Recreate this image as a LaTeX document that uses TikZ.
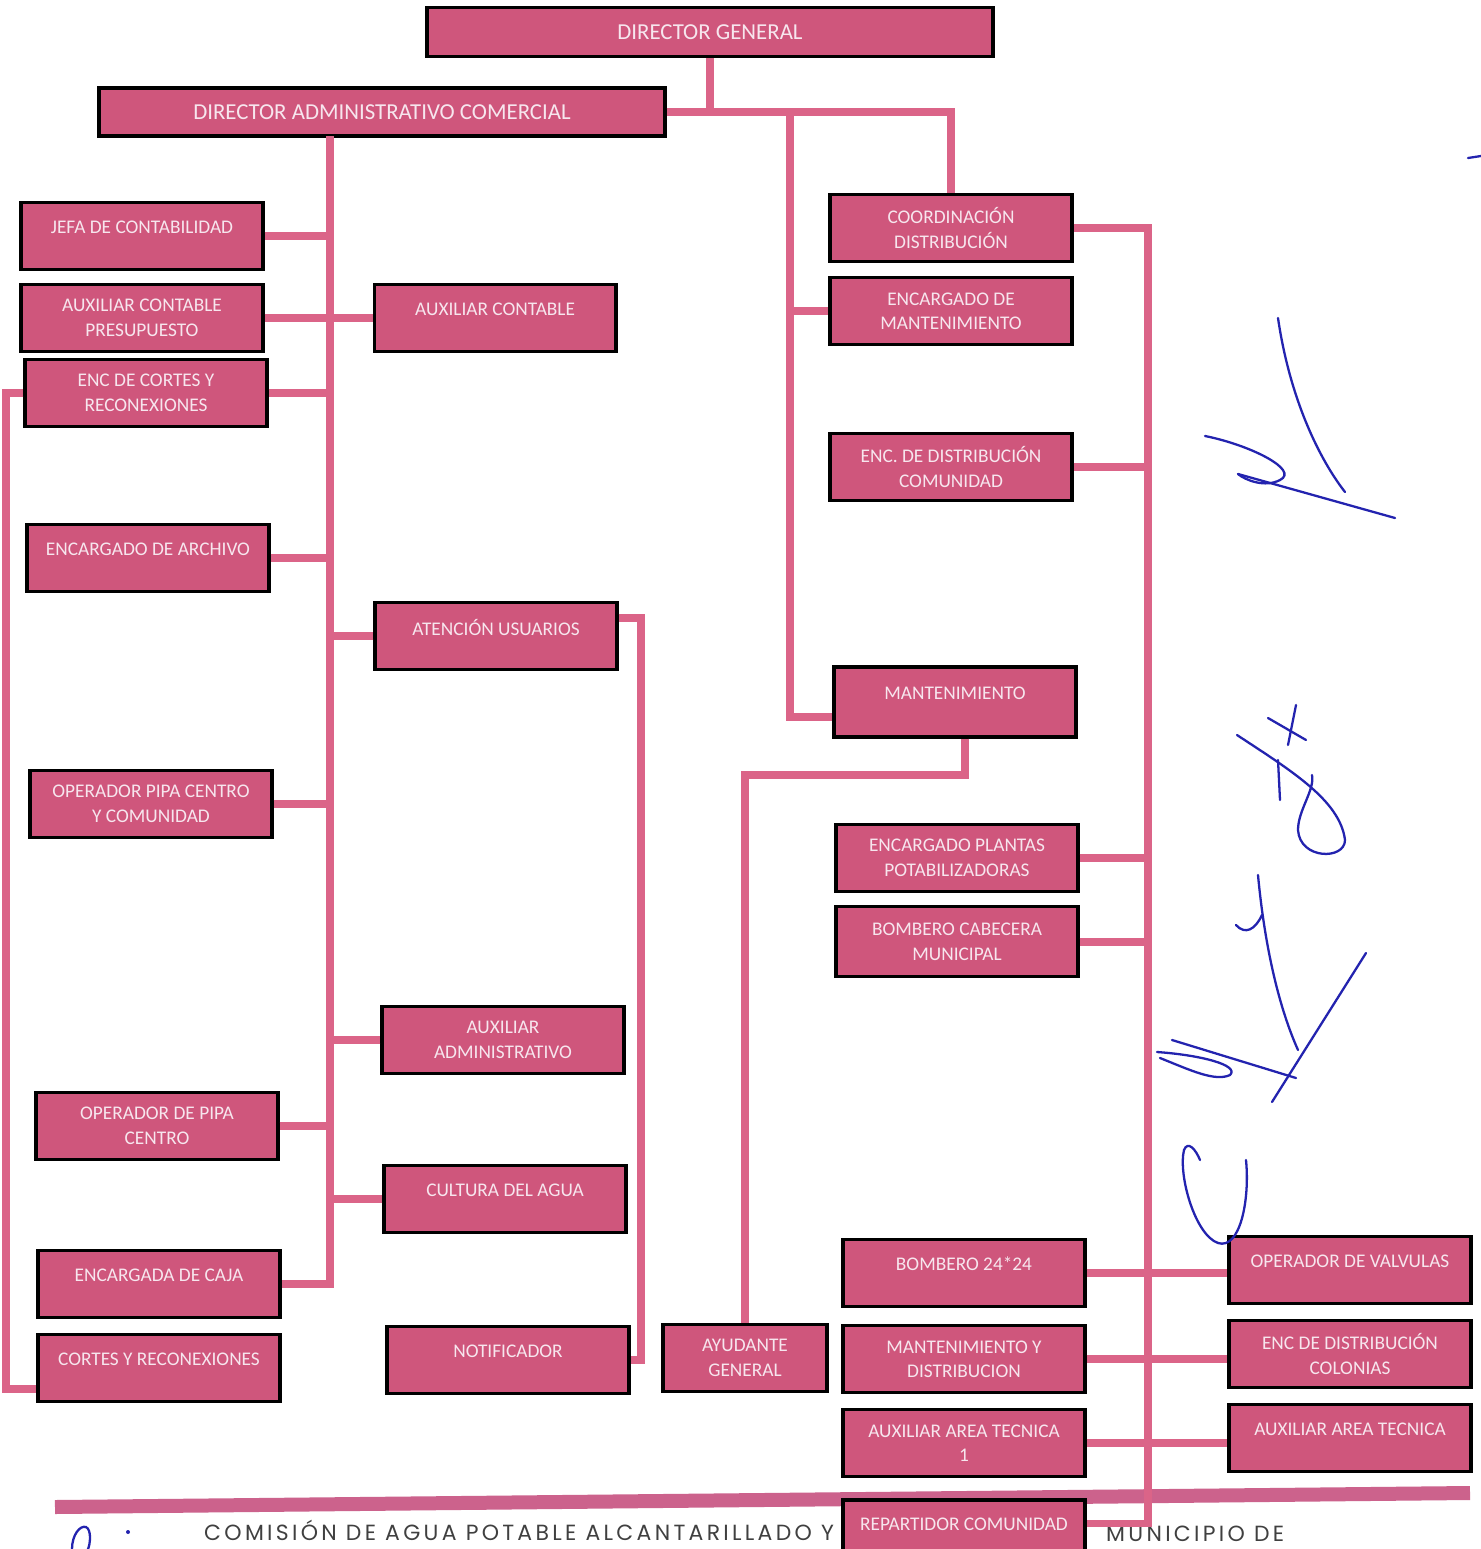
\documentclass[tikz,border=0pt]{standalone}
\usepackage{fontspec}
\setmainfont{Carlito}
\newfontfamily\footfont[LetterSpace=15]{Poppins}
\usetikzlibrary{positioning}
\definecolor{boxpink}{RGB}{207,86,124}
\definecolor{linkpink}{RGB}{219,100,136}
\definecolor{barpink}{RGB}{204,98,140}
\definecolor{boxtext}{RGB}{247,230,238}
\definecolor{inkblue}{RGB}{35,35,175}

\begin{document}
\begin{tikzpicture}[
  x=0.02cm, y=-0.02cm,
  box/.style={rectangle, draw=black, line width=1.8pt, fill=boxpink, text=boxtext, align=center, font=\fontsize{11}{14}\selectfont, minimum width=4.84cm, minimum height=1.34cm, inner sep=1pt},
  lift/.style={text depth=0.36cm},
  head/.style={box, font=\fontsize{13}{16}\selectfont, minimum width=11.32cm, minimum height=0.98cm},
  line/.style={draw=linkpink, line width=4.5pt},
  ink/.style={draw=inkblue, line width=1.3pt, line cap=round}
]

\fill[white] (0,0) rectangle (1481,1549);
\useasboundingbox (0,0) rectangle (1481,1549);

\draw[barpink, line width=0.28cm] (55,1507) -- (1470,1493);
\node[anchor=base west, font=\footfont\fontsize{12.5}{15}\selectfont, text=black!75] (footl) at (198,1540) {COMISIÓN DE AGUA POTABLE ALCANTARILLADO Y};
\node[anchor=base west, font=\footfont\fontsize{12.5}{15}\selectfont, text=black!75] (footr) at (1100,1541) {MUNICIPIO DE};

\node[head] (dg) at (710,32) {DIRECTOR GENERAL};
\node[head, minimum height=0.96cm] (dac) at (382,112) {DIRECTOR ADMINISTRATIVO COMERCIAL};

\node[box, lift] (jefa) at (142,236) {JEFA DE CONTABILIDAD};
\node[box] (auxcp) at (142,318) {AUXILIAR CONTABLE\\PRESUPUESTO};
\node[box, lift, right=2.16cm of auxcp] (auxc) {AUXILIAR CONTABLE};
\node[box] (enccortes) at (146,393) {ENC DE CORTES Y\\RECONEXIONES};
\node[box, lift] (archivo) at (148,558) {ENCARGADO DE ARCHIVO};
\node[box, lift] (atencion) at (496,636) {ATENCIÓN USUARIOS};
\node[box] (pipacc) at (151,804) {OPERADOR PIPA CENTRO\\Y COMUNIDAD};
\node[box] (auxadm) at (503,1040) {AUXILIAR\\ADMINISTRATIVO};
\node[box] (pipac) at (157,1126) {OPERADOR DE PIPA\\CENTRO};
\node[box, lift] (cultura) at (505,1199) {CULTURA DEL AGUA};
\node[box, lift] (caja) at (159,1284) {ENCARGADA DE CAJA};
\node[box, lift, below=0.28cm of caja] (cortes) {CORTES Y RECONEXIONES};
\node[box, lift] (notif) at (508,1360) {NOTIFICADOR};
\node[box, minimum width=3.28cm] (ayudante) at (745,1358) {AYUDANTE\\GENERAL};

\node[box] (coord) at (951,228) {COORDINACIÓN\\DISTRIBUCIÓN};
\node[box, below=0.26cm of coord] (encmant) {ENCARGADO DE\\MANTENIMIENTO};
\node[box] (distcom) at (951,467) {ENC. DE DISTRIBUCIÓN\\COMUNIDAD};
\node[box, lift, minimum height=1.4cm] (mant) at (955,702) {MANTENIMIENTO};
\node[box] (plantas) at (957,858) {ENCARGADO PLANTAS\\POTABILIZADORAS};
\node[box, minimum height=1.4cm, below=0.24cm of plantas] (bombcab) {BOMBERO CABECERA\\MUNICIPAL};
\node[box, lift] (bomb24) at (964,1273) {BOMBERO 24*24};
\node[box, below=0.32cm of bomb24] (mantdist) {MANTENIMIENTO Y\\DISTRIBUCION};
\node[box, below=0.28cm of mantdist] (auxat1) {AUXILIAR AREA TECNICA\\1};
\node[box, lift, below=0.4cm of auxat1] (repart) {REPARTIDOR COMUNIDAD};
\node[box, lift] (valv) at (1350,1270) {OPERADOR DE VALVULAS};
\node[box, below=0.28cm of valv] (distcol) {ENC DE DISTRIBUCIÓN\\COLONIAS};
\node[box, lift, below=0.28cm of distcol] (auxat) {AUXILIAR AREA TECNICA};

\draw[line] (dg.south) -- (dg.south |- dac.east);
\draw[line] (dac.east) -| (coord.north);
\coordinate (mtop) at (790,112);
\draw[line] (mtop) |- ([yshift=-0.3cm]mant.west);
\draw[line] (mtop |- encmant.west) -- (encmant.west);

\coordinate (ltop) at (330,136);
\draw[line] (ltop) |- (caja.east);
\foreach \n in {jefa, enccortes, archivo, pipacc, pipac}
  \draw[line] (\n.east) -- (\n.east -| ltop);
\foreach \n in {atencion, auxadm, cultura}
  \draw[line] (\n.west) -- (\n.west -| ltop);
\draw[line] (auxcp.east) -- (auxc.west);

\draw[line] ([yshift=0.36cm]atencion.east) -- ++(22,0) |- (notif.east);
\draw[line] (enccortes.west) -- ++(-17,0) |- ([yshift=-0.42cm]cortes.west);
\draw[line] ([xshift=0.2cm]mant.south) -- ++(0,36) -| (ayudante.north);

\coordinate (rtop) at (1148,228);
\coordinate (rend) at ([yshift=0.2cm]repart.east);
\draw[line] (coord.east) -| (rtop |- rend) -- (rend);
\foreach \n in {distcom, plantas, bombcab}
  \draw[line] (\n.east) -- (\n.east -| rtop);
\draw[line] (bomb24.east) -- (bomb24.east -| valv.west);
\draw[line] (mantdist.east) -- (mantdist.east -| distcol.west);
\draw[line] (auxat1.east) -- (auxat1.east -| auxat.west);

% firmas
\draw[ink] (1278,318) .. controls (1290,400) and (1320,460) .. (1345,492);
\draw[ink] (1205,436) .. controls (1250,445) and (1300,470) .. (1280,480) .. controls (1265,488) and (1245,480) .. (1238,474);
\draw[ink] (1238,474) -- (1395,518);
\draw[ink] (1237,735) .. controls (1290,770) and (1340,800) .. (1345,840) .. controls (1345,860) and (1300,860) .. (1298,830) .. controls (1298,810) and (1315,790) .. (1312,775);
\draw[ink] (1278,760) -- (1280,800);
\draw[ink] (1268,718) -- (1306,740);
\draw[ink] (1296,705) -- (1288,745);
\draw[ink] (1258,875) .. controls (1265,950) and (1280,1010) .. (1298,1050);
\draw[ink] (1236,925) .. controls (1245,935) and (1255,930) .. (1262,915);
\draw[ink] (1366,953) -- (1272,1102);
\draw[ink] (1157,1052) .. controls (1200,1055) and (1240,1065) .. (1230,1075) .. controls (1215,1082) and (1190,1070) .. (1160,1058);
\draw[ink] (1172,1040) -- (1296,1078);
\draw[ink] (1246,1160) .. controls (1250,1200) and (1240,1250) .. (1218,1243) .. controls (1195,1235) and (1178,1175) .. (1184,1150) .. controls (1188,1140) and (1196,1150) .. (1200,1160);
\draw[ink] (1468,158) -- (1481,156);
\draw[ink] (72,1549) .. controls (72,1535) and (80,1525) .. (86,1527) .. controls (92,1530) and (90,1545) .. (88,1549);
\fill[inkblue] (128,1532) circle (0.04cm);

\end{tikzpicture}
\end{document}
